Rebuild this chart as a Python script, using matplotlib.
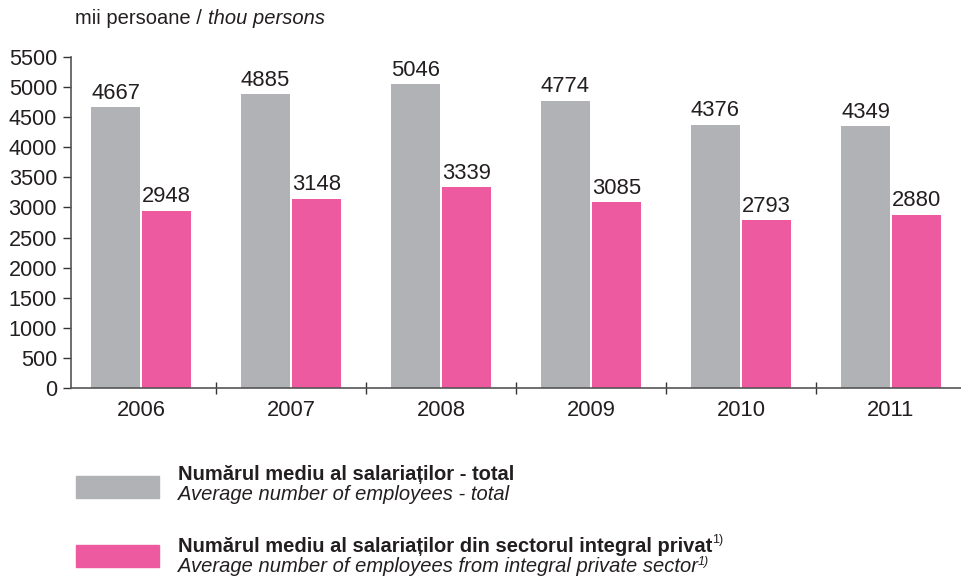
import matplotlib.pyplot as plt
from matplotlib.patches import Rectangle
import numpy as np

# Data
years = ["2006", "2007", "2008", "2009", "2010", "2011"]
total = [4667, 4885, 5046, 4774, 4376, 4349]
private = [2948, 3148, 3339, 3085, 2793, 2880]

unit_ro = "mii persoane / "
unit_en = "thou persons"
leg_total_ro = "Numărul mediu al salariaților - total"
leg_total_en = "Average number of employees - total"
leg_priv_ro = "Numărul mediu al salariaților din sectorul integral privat"
leg_priv_en = "Average number of employees from integral private sector"

gray = "#b1b2b6"
pink = "#ee5aa0"
ink = "#231f20"

plt.rcParams['font.family'] = ['Liberation Sans', 'DejaVu Sans']

fig = plt.figure(figsize=(9.61, 5.76), dpi=100)
W, H = 961.0, 576.0
ax = fig.add_axes([71 / W, 188 / H, (961 - 71) / W, (388 - 57) / H])

x = np.arange(len(years))
bw = 0.327
ax.bar(x - 0.17, total, width=bw, color=gray)
ax.bar(x + 0.17, private, width=bw, color=pink)

for xi, v in zip(x, total):
    ax.text(xi - 0.17, v + 55, str(v), ha='center', va='bottom', fontsize=15.8, color=ink)
for xi, v in zip(x, private):
    ax.text(xi + 0.17, v + 55, str(v), ha='center', va='bottom', fontsize=15.8, color=ink)

ax.set_xlim(-0.467, 5.467)
ax.set_ylim(0, 5500)
ax.set_yticks(np.arange(0, 5501, 500))
ax.set_xticks(x)
ax.set_xticklabels(years)
ax.set_xticks(x[:-1] + 0.5, minor=True)

ax.tick_params(axis='x', which='major', length=0, pad=9, labelsize=15.8, labelcolor=ink)
ax.tick_params(axis='x', which='minor', direction='inout', length=9, width=1, color='#333333')
ax.tick_params(axis='y', direction='out', length=6, width=1, color='#333333',
               labelsize=15.6, labelcolor=ink, pad=4)

for s in ['top', 'right']:
    ax.spines[s].set_visible(False)
for s in ['left', 'bottom']:
    ax.spines[s].set_color('#555555')
    ax.spines[s].set_linewidth(1.2)

# Unit label at top
t1 = fig.text(75 / W, 1 - 19 / H, unit_ro, fontsize=14.5, color=ink, va='center', ha='left')
fig.canvas.draw()
r = fig.canvas.get_renderer()
bb = t1.get_window_extent(r)
fig.text(bb.x1 / W, 1 - 19 / H, unit_en, fontsize=14.5, color=ink, va='center', ha='left',
         style='italic')

# Legend
fig.patches.append(Rectangle((76 / W, 1 - 498 / H), 83 / W, 22 / H, color=gray,
                             transform=fig.transFigure, figure=fig))
fig.patches.append(Rectangle((76 / W, 1 - 567 / H), 83 / W, 22 / H, color=pink,
                             transform=fig.transFigure, figure=fig))

lx = 178 / W
fs = 14.5
fig.text(lx, 1 - 474 / H, leg_total_ro, fontsize=fs, weight='bold', color=ink, va='center')
fig.text(lx, 1 - 495 / H, leg_total_en, fontsize=fs, style='italic', color=ink, va='center')
tb = fig.text(lx, 1 - 547 / H, leg_priv_ro, fontsize=fs, weight='bold', color=ink, va='center')
ti = fig.text(lx, 1 - 567 / H, leg_priv_en, fontsize=fs, style='italic', color=ink, va='center')
fig.canvas.draw()
bb1 = tb.get_window_extent(r)
bb2 = ti.get_window_extent(r)
fig.text(bb1.x1 / W, 1 - 540 / H, "1)", fontsize=9, color=ink, va='center')
fig.text(bb2.x1 / W, 1 - 562 / H, "1)", fontsize=9, color=ink, va='center',
         style='italic')

fig.savefig("out.png", dpi=100)
